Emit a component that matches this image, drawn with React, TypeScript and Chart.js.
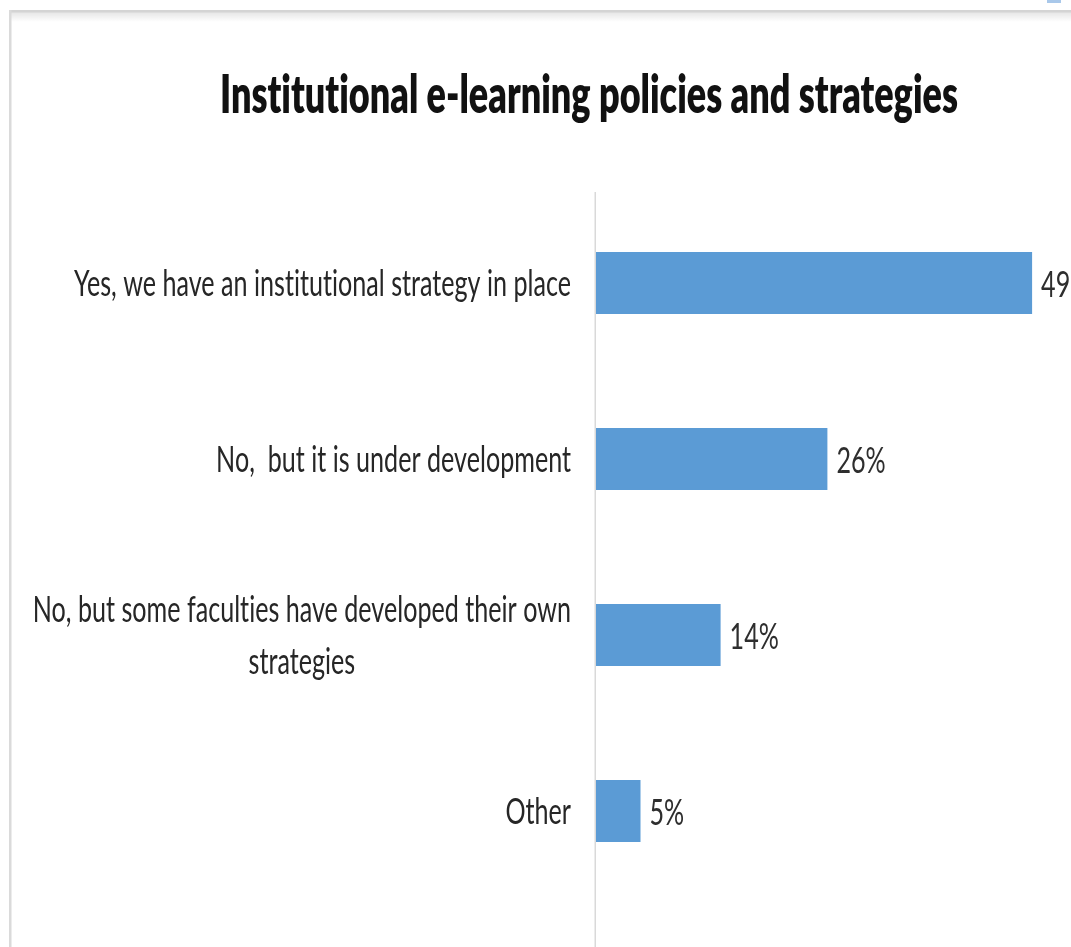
import React, { useEffect, useRef } from "react";
import { Chart, registerables } from "chart.js";

Chart.register(...registerables);

const chartTitle = "Institutional e-learning policies and strategies";
const categories: string[][] = [
  ["Yes, we have an institutional strategy in place"],
  ["No,  but it is under development"],
  ["No, but some faculties have developed their own", "strategies"],
  ["Other"],
];
const values = [49, 26, 14, 5];
const axisMin = 0;
const axisMax = 60;

const BAR_COLOR = "#5B9BD5";
const TEXT_COLOR = "#262626";
const FONT_FAMILY = "Lato, 'Open Sans', 'DejaVu Sans', sans-serif";

const drawScaledText = (
  ctx: CanvasRenderingContext2D,
  text: string,
  x: number,
  y: number,
  sx: number,
  align: "left" | "center" | "right"
) => {
  ctx.save();
  ctx.translate(x, y);
  ctx.scale(sx, 1);
  ctx.textAlign = align;
  ctx.textBaseline = "alphabetic";
  ctx.fillText(text, 0, 0);
  ctx.restore();
};

const decorPlugin = {
  id: "decor",
  beforeDraw(chart: any) {
    const { ctx, width, height } = chart;
    ctx.save();
    ctx.fillStyle = "#ffffff";
    ctx.fillRect(0, 0, width, height);
    const g = ctx.createLinearGradient(0, 12, 0, 22);
    g.addColorStop(0, "rgba(0,0,0,0.10)");
    g.addColorStop(1, "rgba(0,0,0,0)");
    ctx.fillStyle = g;
    ctx.fillRect(10, 12, width, 10);
    ctx.fillStyle = "#d4d4d4";
    ctx.fillRect(10, 10, width, 2.5);
    ctx.fillStyle = "#dadada";
    ctx.fillRect(9, 10, 2.5, height);
    ctx.fillStyle = "#a9c8ea";
    ctx.fillRect(1047, 0, 14, 3);
    ctx.restore();
  },
  afterDatasetsDraw(chart: any) {
    const { ctx, chartArea, height } = chart;
    const yScale = chart.scales.y;
    const meta = chart.getDatasetMeta(0);
    ctx.save();
    try {
      (ctx as any).letterSpacing = "0.01px";
    } catch (e) {}

    ctx.strokeStyle = "#d9d9d9";
    ctx.lineWidth = 1.5;
    ctx.beginPath();
    ctx.moveTo(chartArea.left - 0.75, chartArea.top - 3);
    ctx.lineTo(chartArea.left - 0.75, height);
    ctx.stroke();

    ctx.fillStyle = "#111111";
    ctx.font = `800 52px ${FONT_FAMILY}`;
    const tw = ctx.measureText(chartTitle).width;
    const tsx = 738 / tw;
    drawScaledText(ctx, chartTitle, 589, 113, tsx, "center");

    ctx.font = `37px ${FONT_FAMILY}`;
    ctx.fillStyle = TEXT_COLOR;
    const refW = ctx.measureText(categories[0][0]).width;
    const lsx = 497 / refW;
    const capH = 26;
    const lineH = 52;
    const rightX = chartArea.left - 25;
    categories.forEach((lines, i) => {
      const cy = yScale.getPixelForValue(i);
      const blockW = Math.max(...lines.map((l) => ctx.measureText(l).width)) * lsx;
      const n = lines.length;
      lines.forEach((line, j) => {
        const ly = cy + (j - (n - 1) / 2) * lineH + capH / 2;
        if (n === 1) {
          drawScaledText(ctx, line, rightX, ly, lsx, "right");
        } else {
          drawScaledText(ctx, line, rightX - blockW / 2, ly, lsx, "center");
        }
      });
    });

    ctx.fillStyle = "#2e2e2e";
    meta.data.forEach((bar: any, i: number) => {
      drawScaledText(ctx, `${values[i]}%`, bar.x + 9, bar.y + capH / 2 + 1, lsx, "left");
    });
    ctx.restore();
  },
};

export default function App() {
  const canvasRef = useRef<HTMLCanvasElement | null>(null);

  useEffect(() => {
    if (!canvasRef.current) return;
    const chart = new Chart(canvasRef.current, {
      type: "bar",
      data: {
        labels: categories.map((c) => c.join(" ")),
        datasets: [
          {
            data: values,
            backgroundColor: BAR_COLOR,
            borderWidth: 0,
            categoryPercentage: 1,
            barPercentage: 0.352,
          },
        ],
      },
      options: {
        indexAxis: "y",
        animation: false,
        responsive: false,
        devicePixelRatio: 1,
        layout: { padding: { left: 596, top: 195, right: 0, bottom: 48 } },
        scales: {
          x: { type: "linear", min: axisMin, max: axisMax, display: false },
          y: { type: "category", display: false, offset: true },
        },
        plugins: {
          legend: { display: false },
          tooltip: { enabled: false },
          title: { display: false },
        },
      },
      plugins: [decorPlugin],
    });
    return () => chart.destroy();
  }, []);

  return (
    <div
      style={{
        position: "fixed",
        left: 0,
        top: 0,
        width: 1071,
        height: 947,
        overflow: "hidden",
        background: "#ffffff",
      }}
    >
      <canvas
        ref={canvasRef}
        width={1130}
        height={947}
        style={{ display: "block", width: 1130, height: 947 }}
      />
    </div>
  );
}
